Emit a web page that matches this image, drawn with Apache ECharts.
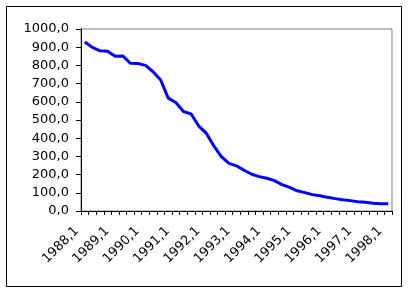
<!DOCTYPE html>
<html>
<head>
<meta charset="utf-8">
<script src="https://cdn.jsdelivr.net/npm/echarts@6/dist/echarts.min.js"></script>
<style>
html,body{margin:0;padding:0;background:#fff;}
#c{width:409px;height:293px;}
</style>
</head>
<body>
<div id="c"></div>
<script>
var categories = [
  "1988,1","1988,2","1988,3","1988,4",
  "1989,1","1989,2","1989,3","1989,4",
  "1990,1","1990,2","1990,3","1990,4",
  "1991,1","1991,2","1991,3","1991,4",
  "1992,1","1992,2","1992,3","1992,4",
  "1993,1","1993,2","1993,3","1993,4",
  "1994,1","1994,2","1994,3","1994,4",
  "1995,1","1995,2","1995,3","1995,4",
  "1996,1","1996,2","1996,3","1996,4",
  "1997,1","1997,2","1997,3","1997,4",
  "1998,1"
];
var values = [
  928, 899, 880, 878,
  850, 852, 812, 810,
  800, 765, 720, 620,
  596, 547, 534, 468,
  428, 358, 299, 262,
  248, 224, 202, 189,
  180, 167, 145, 130,
  111, 101, 90, 84,
  75, 68, 62, 57,
  51, 48, 42, 40,
  40
];
var yTicks = { min: 0, max: 1000, interval: 100 };

var chart = echarts.init(document.getElementById('c'), null, {renderer: 'canvas'});
var font = 'DejaVu Sans';
chart.setOption({
  animation: false,
  backgroundColor: '#ffffff',
  graphic: [{
    type: 'rect',
    shape: {x: 6.5, y: 6.5, width: 395, height: 280},
    style: {fill: 'none', stroke: '#000', lineWidth: 1},
    silent: true,
    z: -1
  }],
  grid: [{
    left: 81, right: 17, top: 29, bottom: 82,
    show: true, borderColor: '#808080', borderWidth: 1, backgroundColor: 'transparent'
  }, {
    left: 73, right: 25, top: 29, bottom: 82, show: false
  }],
  xAxis: [{
    type: 'category',
    gridIndex: 0,
    data: categories,
    boundaryGap: true,
    axisLine: {lineStyle: {color: '#000', width: 1}},
    axisTick: {show: true, interval: 0, length: 4, lineStyle: {color: '#000'}},
    axisLabel: {show: false},
    splitLine: {show: false}
  }, {
    type: 'category',
    gridIndex: 1,
    data: categories,
    boundaryGap: true,
    axisLine: {show: false},
    axisTick: {show: false},
    axisLabel: {
      interval: 3, rotate: 45, margin: 18,
      fontFamily: font, fontSize: 13, color: '#000'
    },
    splitLine: {show: false}
  }],
  yAxis: [{
    type: 'value',
    gridIndex: 0,
    min: yTicks.min, max: yTicks.max, interval: yTicks.interval,
    axisLine: {show: true, lineStyle: {color: '#000', width: 1}},
    axisTick: {show: true, length: 5, lineStyle: {color: '#000'}},
    axisLabel: {
      margin: 12, fontFamily: font, fontSize: 13, color: '#000',
      formatter: function (v) { return v.toFixed(1).replace('.', ','); }
    },
    splitLine: {show: false}
  }, {
    type: 'value',
    gridIndex: 1,
    min: yTicks.min, max: yTicks.max,
    show: false
  }],
  series: [{
    type: 'line',
    xAxisIndex: 0,
    yAxisIndex: 0,
    data: values,
    symbol: 'none',
    lineStyle: {color: '#0000ff', width: 3},
    itemStyle: {color: '#0000ff'}
  }]
});
</script>
</body>
</html>
